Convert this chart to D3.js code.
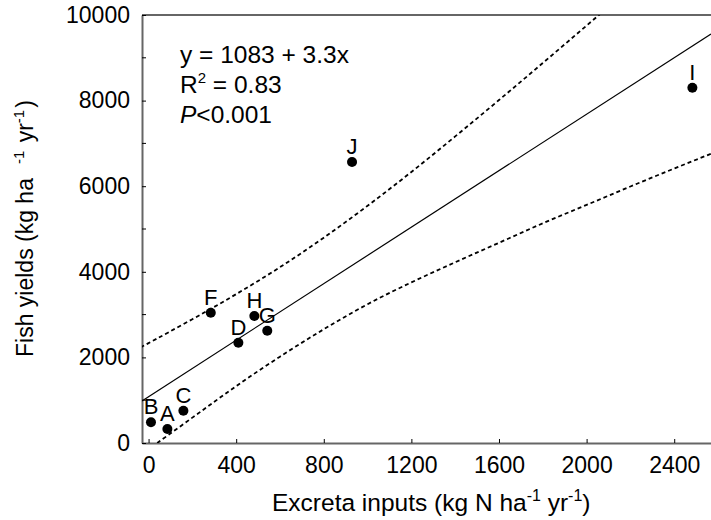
<!DOCTYPE html>
<html>
<head>
<meta charset="utf-8">
<script src="https://cdn.jsdelivr.net/npm/d3@7"></script>
<style>
  body { margin: 0; background: #fff; }
  svg { display: block; font-family: "Liberation Sans", Arial, sans-serif; }
</style>
</head>
<body>
<svg id="chart" width="711" height="520"></svg>
<script>
// ---- Data ----
const pondLabels = ["A", "B", "C", "D", "F", "G", "H", "I", "J"];
const excretaInputs = [86, 11, 159, 410, 284, 542, 483, 2483, 929];
const fishYields = [327, 484, 755, 2343, 3044, 2624, 2967, 8301, 6565];

const regIntercept = 1083;
const regSlope = 3.3;

// 95% confidence band
const upperBandX = [-30, 0, 200, 400, 600, 800, 1000, 1200, 1400, 1600, 1800, 2000, 2200];
const upperBandY = [2254, 2333, 2893, 3478, 4108, 4798, 5543, 6333, 7163, 8013, 8878, 9753, 10633];

const lowerBandX = [-30, 0, 200, 400, 600, 800, 1000, 1200, 1400, 1600, 1800, 2000, 2200, 2400, 2600];
const lowerBandY = [-286, -150, 593, 1328, 2018, 2658, 3243, 3753, 4223, 4678, 5133, 5563, 5993, 6413, 6823];

const xTicks = [0, 400, 800, 1200, 1600, 2000, 2400];
const yTicksMajor = [0, 2000, 4000, 6000, 8000, 10000];
const yTicksMinor = [1000, 3000, 5000, 7000, 9000];

// ---- Layout ----
const svg = d3.select("#chart");
const pLeft = 142, pRight = 711, pTop = 15, pBottom = 443;
const x = d3.scaleLinear().domain([-30, 2568]).range([pLeft, pRight]);
const y = d3.scaleLinear().domain([0, 10000]).range([pBottom, pTop]);
const axisColor = "#666";
const fontFam = "Liberation Sans, Arial, sans-serif";

svg.append("defs").append("clipPath").attr("id", "plotClip")
  .append("rect").attr("x", pLeft).attr("y", pTop).attr("width", pRight - pLeft).attr("height", pBottom - pTop);

// Top frame line
svg.append("line").attr("x1", pLeft).attr("x2", pRight).attr("y1", pTop).attr("y2", pTop)
  .attr("stroke", axisColor).attr("stroke-width", 2);

// X axis
const gx = svg.append("g").attr("transform", `translate(0,${pBottom})`)
  .call(d3.axisBottom(x).tickValues(xTicks).tickSizeInner(-4).tickSizeOuter(0).tickPadding(14).tickFormat(d3.format("d")));
gx.select(".domain").attr("stroke", axisColor).attr("stroke-width", 2);
gx.selectAll(".tick line").attr("stroke", "#000");
gx.selectAll(".tick text").attr("font-size", "23px").attr("fill", "#000").attr("font-family", fontFam);

// Y axis
const gy = svg.append("g").attr("transform", `translate(${pLeft},0)`)
  .call(d3.axisLeft(y).tickValues(yTicksMajor).tickSizeInner(-4).tickSizeOuter(0).tickPadding(12).tickFormat(d3.format("d")));
gy.select(".domain").attr("stroke", axisColor).attr("stroke-width", 2);
gy.selectAll(".tick line").attr("stroke", "#000");
gy.selectAll(".tick text").attr("font-size", "23px").attr("fill", "#000").attr("font-family", fontFam);
gy.selectAll(".minor").data(yTicksMinor).enter().append("line")
  .attr("class", "minor").attr("x1", 0).attr("x2", 4)
  .attr("y1", d => y(d)).attr("y2", d => y(d)).attr("stroke", "#000");

// Plot contents (clipped)
const plot = svg.append("g").attr("clip-path", "url(#plotClip)");

// Regression line
plot.append("line")
  .attr("x1", x(-30)).attr("y1", y(regIntercept + regSlope * -30))
  .attr("x2", x(2568)).attr("y2", y(regIntercept + regSlope * 2568))
  .attr("stroke", "#000").attr("stroke-width", 1.2);

// Confidence bands
const bandLine = d3.line().x(d => x(d[0])).y(d => y(d[1])).curve(d3.curveNatural);
plot.append("path").datum(d3.zip(upperBandX, upperBandY)).attr("d", bandLine)
  .attr("fill", "none").attr("stroke", "#000").attr("stroke-width", 1.8).attr("stroke-dasharray", "4,3");
plot.append("path").datum(d3.zip(lowerBandX, lowerBandY)).attr("d", bandLine)
  .attr("fill", "none").attr("stroke", "#000").attr("stroke-width", 1.8).attr("stroke-dasharray", "4,3");

// Points
const pts = pondLabels.map((l, i) => ({ label: l, x: excretaInputs[i], y: fishYields[i] }));
svg.append("g").selectAll("circle").data(pts).enter().append("circle")
  .attr("cx", d => x(d.x)).attr("cy", d => y(d.y)).attr("r", 5).attr("fill", "#000");
svg.append("g").selectAll("text").data(pts).enter().append("text")
  .attr("x", d => x(d.x)).attr("y", d => y(d.y) - 8)
  .attr("text-anchor", "middle").attr("font-size", "22px").attr("fill", "#000")
  .text(d => d.label);

// Annotation
const ann = svg.append("g").attr("font-size", "24.5px").attr("fill", "#000");
ann.append("text").attr("x", 180).attr("y", 63).text("y = 1083 + 3.3x");
const r2 = ann.append("text").attr("x", 180).attr("y", 93);
r2.append("tspan").text("R");
r2.append("tspan").attr("font-size", "15px").attr("dy", -10).text("2");
r2.append("tspan").attr("dy", 10).text(" = 0.83");
const pt = ann.append("text").attr("x", 180).attr("y", 123);
pt.append("tspan").attr("font-style", "italic").text("P");
pt.append("tspan").text("<0.001");

// X title
const xt = svg.append("text").attr("x", 272).attr("y", 511).attr("font-size", "24.5px").attr("fill", "#000");
xt.append("tspan").text("Excreta inputs (kg N ha");
xt.append("tspan").attr("font-size", "16px").attr("dy", -10).text("-1");
xt.append("tspan").attr("dy", 10).text(" yr");
xt.append("tspan").attr("font-size", "16px").attr("dy", -10).text("-1");
xt.append("tspan").attr("dy", 10).text(")");

// Y title
const yt = svg.append("text").attr("transform", "translate(33,357) rotate(-90)")
  .attr("font-size", "23px").attr("fill", "#000");
yt.append("tspan").text("Fish yields (kg ha");
yt.append("tspan").attr("font-size", "15px").attr("dx", 14).attr("dy", -9).text("-1");
yt.append("tspan").attr("dy", 9).attr("dx", 2).text(" yr");
yt.append("tspan").attr("font-size", "15px").attr("dy", -9).text("-1");
yt.append("tspan").attr("dy", 9).attr("dx", 2).text(")");
</script>
</body>
</html>
